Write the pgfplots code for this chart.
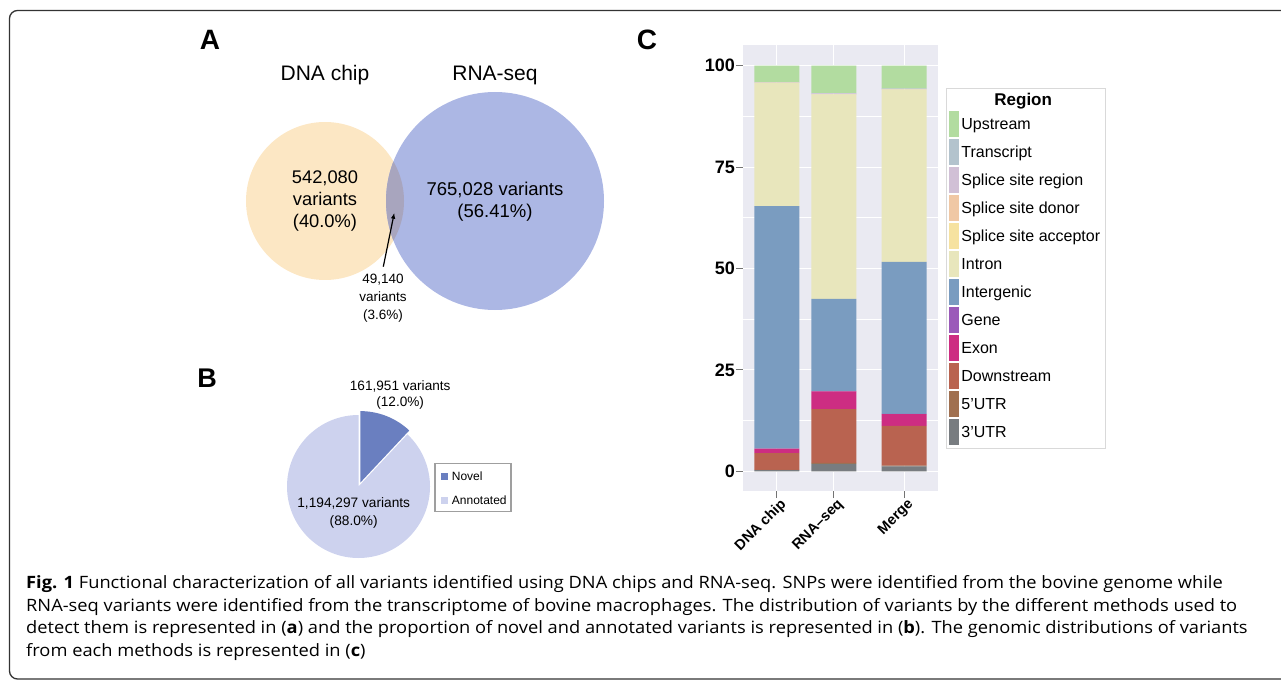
\documentclass[border=0pt]{standalone}
\usepackage{pgfplots}
\pgfplotsset{compat=1.18}
\usepackage{fontspec}
\setmainfont{Liberation Sans}
\newfontfamily\capfont[FakeStretch=1.075]{Open Sans}
\usetikzlibrary{arrows.meta}
\definecolor{venno}{RGB}{252,231,196}
\definecolor{vennb}{RGB}{172,183,228}
\definecolor{vennx}{RGB}{168,165,190}
\definecolor{pienovel}{RGB}{106,127,192}
\definecolor{pieannot}{RGB}{205,210,238}
\definecolor{bgc}{RGB}{234,234,242}
\definecolor{cUp}{RGB}{178,220,160}
\definecolor{cTr}{RGB}{179,195,205}
\definecolor{cSr}{RGB}{209,192,214}
\definecolor{cSd}{RGB}{240,200,165}
\definecolor{cSa}{RGB}{246,226,160}
\definecolor{cIn}{RGB}{232,230,188}
\definecolor{cIg}{RGB}{122,156,192}
\definecolor{cGe}{RGB}{155,90,185}
\definecolor{cEx}{RGB}{205,45,130}
\definecolor{cDo}{RGB}{185,99,80}
\definecolor{cFi}{RGB}{160,112,80}
\definecolor{cTh}{RGB}{120,124,128}
\begin{document}
\begin{tikzpicture}[x=1pt,y=1pt]
\path[use as bounding box] (0,0) rectangle (1281,681);
% frame
\draw[line width=1.3pt, black!80] (1285,670.5) -- (17.5,670.5) arc[start angle=90,end angle=180,radius=8] -- (9.5,10) arc[start angle=180,end angle=270,radius=8] -- (1285,2);
% ---------------- Panel A
\node[font=\bfseries\fontsize{28}{28}\selectfont] at (210,641) {A};
\node[font=\fontsize{21}{21}\selectfont] at (325,606) {DNA chip};
\node[font=\fontsize{21}{21}\selectfont] at (495,606) {RNA-seq};
\fill[venno] (325,480) circle[radius=79];
\fill[vennb] (495,480) circle[radius=109];
\begin{scope}
\clip (325,480) circle[radius=79];
\fill[vennx] (495,480) circle[radius=109];
\end{scope}
\node[align=center, font=\fontsize{18.3}{22}\selectfont] at (325,479.5) {542,080\\variants\\(40.0\%)};
\node[align=center, font=\fontsize{18.5}{22}\selectfont] at (495,479.5) {765,028 variants\\(56.41\%)};
\node[align=center, font=\fontsize{13.5}{18.3}\selectfont] at (383,382.7) {49,140\\variants\\(3.6\%)};
\draw[line width=1.2pt, -{Latex[length=6pt,width=4.5pt]}] (383.3,414.3) -- (394.3,468.3);
% ---------------- Panel B
\node[font=\bfseries\fontsize{27}{27}\selectfont] at (207,303) {B};
\def\novelpct{12.0}
\pgfmathsetmacro\na{90-3.6*\novelpct}
\pgfmathsetmacro\nb{360+\na}
\fill[pieannot] (358.5,194.5) -- ++(90:71.5) arc[start angle=90,end angle=\nb,radius=71.5] -- cycle;
\begin{scope}[shift={(1.8,3.9)}]
\fill[pienovel] (358.5,194.5) -- ++(\na:71.5) arc[start angle=\na,end angle=90,radius=71.5] -- cycle;
\end{scope}
\node[align=center, font=\fontsize{13.6}{16}\selectfont] at (400.2,285.7) {161,951 variants\\(12.0\%)};
\node[align=center, font=\fontsize{13.7}{18.3}\selectfont] at (353.7,167.8) {1,194,297 variants\\(88.0\%)};
\draw[gray!75, line width=1.2pt, fill=white] (435,217.7) rectangle (511,169.3);
\fill[pienovel] (441,200.8) rectangle (448,207.8);
\fill[pieannot] (441,177.5) rectangle (448,184.5);
\node[anchor=west, inner sep=0pt, font=\fontsize{12}{12}\selectfont] at (451.7,204.3) {Novel};
\node[anchor=west, inner sep=0pt, font=\fontsize{12}{12}\selectfont] at (451.7,181) {Annotated};
% ---------------- Panel C
\node[font=\bfseries\fontsize{28}{28}\selectfont] at (647,641) {C};
\begin{axis}[
  at={(743pt,190pt)}, anchor=south west,
  scale only axis, width=195pt, height=446pt,
  ybar stacked, bar width=0.789,
  xmin=0.404, xmax=3.825, ymin=-4.86, ymax=105.1,
  axis background/.style={fill=bgc},
  axis line style={draw=none},
  grid=both,
  major grid style={white, line width=1pt},
  minor grid style={white, line width=0.6pt},
  minor y tick num=1, minor tick length=0pt,
  ytick={0,25,50,75,100},
  xtick={1,2,3.23},
  xticklabels={DNA chip, RNA--seq, Merge},
  tick pos=left,
  tick align=outside, major tick length=7pt,
  tick style={draw=black!55, line width=1pt},
  /pgf/number format/assume math mode=true,
  yticklabel style={font=\bfseries\fontsize{18}{18}\selectfont, inner sep=1pt},
  xticklabel style={rotate=45, anchor=east, inner sep=1pt, xshift=3pt, yshift=-8pt, font=\bfseries\fontsize{14.5}{14.5}\selectfont},
  reverse legend,
  legend cell align=left,
  legend image code/.code={\fill[#1] (0pt,-13pt) rectangle (10pt,13pt);},
  legend style={at={(axis description cs:1.041,0.9036)}, anchor=north west,
    draw=black!15, line width=0.8pt, fill=white,
    inner xsep=3pt, inner ysep=2pt, row sep=0pt, column sep=0pt,
    font=\fontsize{16}{16}\selectfont,
    nodes={inner xsep=2pt, inner ysep=0pt, minimum height=28pt, anchor=west}},
]
\addplot[fill=cTh, draw=none] coordinates {(1,0.3) (2,1.8) (3.23,1.2)};
\addlegendentry{3'UTR}
\addplot[fill=cFi, draw=none] coordinates {(1,0.05) (2,0.3) (3.23,0.2)};
\addlegendentry{5'UTR}
\addplot[fill=cDo, draw=none] coordinates {(1,4.15) (2,13.2) (3.23,9.8)};
\addlegendentry{Downstream}
\addplot[fill=cEx, draw=none] coordinates {(1,1.1) (2,4.4) (3.23,2.9)};
\addlegendentry{Exon}
\addplot[fill=cGe, draw=none] coordinates {(1,0.0) (2,0.05) (3.23,0.03)};
\addlegendentry{Gene}
\addplot[fill=cIg, draw=none] coordinates {(1,59.8) (2,22.75) (3.23,37.47)};
\addlegendentry{Intergenic}
\addplot[fill=cIn, draw=none] coordinates {(1,30.4) (2,50.4) (3.23,42.5)};
\addlegendentry{Intron}
\addplot[fill=cSa, draw=none] coordinates {(1,0.02) (2,0.05) (3.23,0.03)};
\addlegendentry{Splice site acceptor}
\addplot[fill=cSd, draw=none] coordinates {(1,0.02) (2,0.05) (3.23,0.03)};
\addlegendentry{Splice site donor}
\addplot[fill=cSr, draw=none] coordinates {(1,0.1) (2,0.2) (3.23,0.15)};
\addlegendentry{Splice site region}
\addplot[fill=cTr, draw=none] coordinates {(1,0.0) (2,0.05) (3.23,0.03)};
\addlegendentry{Transcript}
\addplot[fill=cUp, draw=none] coordinates {(1,4.06) (2,6.75) (3.23,5.66)};
\addlegendentry{Upstream}
\addlegendimage{empty legend}
\addlegendentry[minimum height=20pt, font=\bfseries\fontsize{17}{17}\selectfont]{\hspace*{33pt}Region}
\end{axis}
% ---------------- Caption
\begin{scope}[every node/.style={anchor=base west, inner sep=0pt, font=\capfont\fontsize{17}{17}\selectfont}]
\node at (26,92.3) {\textbf{Fig. 1} Functional characterization of all variants identified using DNA chips and RNA-seq. SNPs were identified from the bovine genome while};
\node at (26,70) {RNA-seq variants were identified from the transcriptome of bovine macrophages. The distribution of variants by the different methods used to};
\node at (26,47.3) {detect them is represented in (\textbf{a}) and the proportion of novel and annotated variants is represented in (\textbf{b}). The genomic distributions of variants};
\node at (26,25) {from each methods is represented in (\textbf{c})};
\end{scope}
\end{tikzpicture}
\end{document}
